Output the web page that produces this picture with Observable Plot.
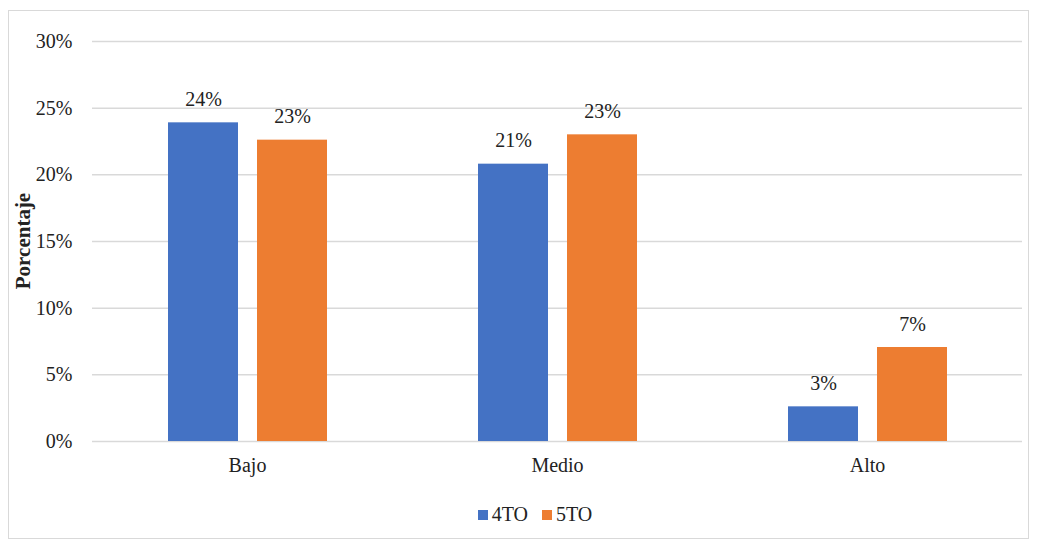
<!DOCTYPE html>
<html>
<head>
<meta charset="utf-8">
<script src="https://cdn.jsdelivr.net/npm/d3@7"></script>
<script src="https://cdn.jsdelivr.net/npm/@observablehq/plot@0.6"></script>
<style>
  html, body { margin: 0; padding: 0; background: #fff; }
  body { width: 1040px; height: 544px; position: relative; overflow: hidden; font-family: "Liberation Serif", serif; }
  #frame { position: absolute; left: 8px; top: 10px; width: 1021px; height: 529px; border: 1px solid #d9d9d9; box-sizing: border-box; }
  #chart { position: absolute; left: 0; top: 0; }
  #chart svg, #chart svg text { font-family: "Liberation Serif", serif !important; }
  #legend { position: absolute; top: 503px; left: 0; width: 1070px; display: flex; justify-content: center; gap: 14px; font-size: 20px; color: #222; }
  .item { display: flex; align-items: center; }
  .sw { width: 10px; height: 10px; margin-right: 4px; display: inline-block; }
</style>
</head>
<body>
<div id="frame"></div>
<div id="chart"></div>
<div id="legend"></div>
<script>
const categories = ["Bajo", "Medio", "Alto"];
const series = ["4TO", "5TO"];
const values4TO = [23.9, 20.8, 2.6];
const values5TO = [22.6, 23.0, 7.05];
const yTicks = [0, 5, 10, 15, 20, 25, 30];
const colors = ["#4472c4", "#ed7d31"];

const data = [];
categories.forEach((c, i) => {
  data.push({cat: c, serie: "4TO", value: values4TO[i]});
  data.push({cat: c, serie: "5TO", value: values5TO[i]});
});

const chart = Plot.plot({
  width: 1040,
  height: 490,
  marginLeft: 92,
  marginRight: 18,
  marginTop: 41,
  marginBottom: 49,
  style: {fontFamily: "'Liberation Serif', serif", fontSize: "20px", color: "#222", background: "transparent"},
  fx: {domain: categories, padding: 0, label: null, axis: "bottom", tickSize: 0, tickPadding: 16},
  x: {domain: series, paddingInner: 0.2135, paddingOuter: 0.848, axis: null},
  y: {domain: [0, 30], ticks: yTicks, tickFormat: d => d + "%", label: null, tickSize: 0, tickPadding: 20},
  color: {domain: series, range: colors},
  marks: [
    Plot.gridY(yTicks, {stroke: "#d9d9d9", strokeOpacity: 1, strokeWidth: 1.5}),
    Plot.barY(data, {fx: "cat", x: "serie", y: "value", fill: "serie"}),
    Plot.text(data, {fx: "cat", x: "serie", y: "value", text: d => Math.round(d.value) + "%", lineAnchor: "bottom", dy: -17, fill: "#222", fontSize: 20})
  ]
});
document.getElementById("chart").appendChild(chart);

// y-axis title
const svg = d3.select(chart);
svg.append("text")
  .attr("transform", "translate(30,241) rotate(-90)")
  .attr("text-anchor", "middle")
  .attr("font-weight", "bold")
  .attr("font-size", 21)
  .attr("fill", "#222")
  .text("Porcentaje");

const legend = document.getElementById("legend");
series.forEach((s, i) => {
  const it = document.createElement("div");
  it.className = "item";
  const sw = document.createElement("span");
  sw.className = "sw";
  sw.style.background = colors[i];
  it.appendChild(sw);
  it.appendChild(document.createTextNode(s));
  legend.appendChild(it);
});
</script>
</body>
</html>
